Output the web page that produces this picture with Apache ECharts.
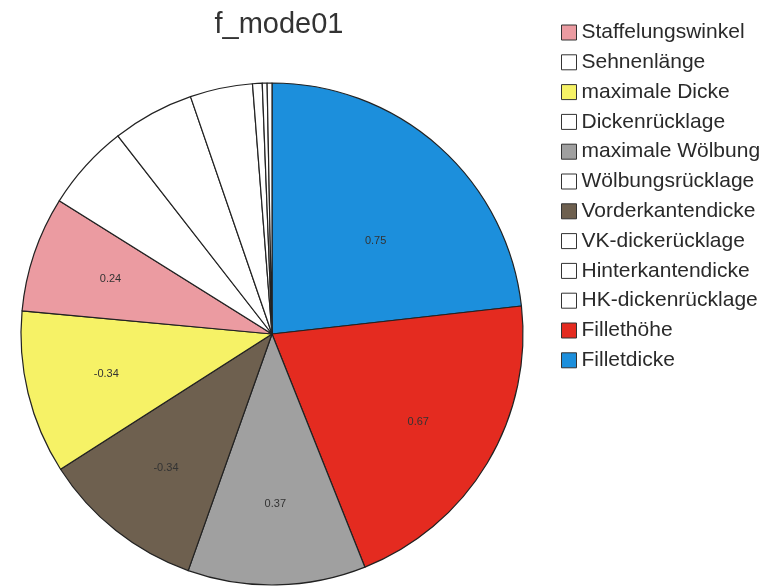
<!DOCTYPE html>
<html>
<head>
<meta charset="utf-8">
<script src="https://cdn.jsdelivr.net/npm/echarts@6/dist/echarts.min.js"></script>
<style>
  html, body {margin: 0; padding: 0; background: #fff;}
  #chart {width: 775px; height: 586px;}
</style>
</head>
<body>
<div id="chart"></div>
<script>
// legend order as in the reference
const legendNames = [
  "Staffelungswinkel", "Sehnenlänge", "maximale Dicke", "Dickenrücklage",
  "maximale Wölbung", "Wölbungsrücklage", "Vorderkantendicke", "VK-dickerücklage",
  "Hinterkantendicke", "HK-dickenrücklage", "Fillethöhe", "Filletdicke",
];

// slice order, clockwise from 12 o'clock
const sliceNames = [
  "Filletdicke", "Fillethöhe", "maximale Wölbung", "Vorderkantendicke",
  "maximale Dicke", "Staffelungswinkel", "Sehnenlänge", "Dickenrücklage",
  "Wölbungsrücklage", "VK-dickerücklage", "Hinterkantendicke", "HK-dickenrücklage",
];
const sliceValues = [0.75, 0.67, 0.37, -0.34, -0.34, 0.24, 0.18, 0.17, 0.13, 0.02, 0.01, 0.01];

const colorByName = {
  "Filletdicke": "#1c8fdc",
  "Fillethöhe": "#e42b20",
  "maximale Wölbung": "#a0a0a0",
  "Vorderkantendicke": "#6e604f",
  "maximale Dicke": "#f6f266",
  "Staffelungswinkel": "#eb9ba1",
};

// the blue label sits a bit closer to the centre in the original
const labelOffsetByName = {
  "Filletdicke": [-10, 34],
};

const chart = echarts.init(document.getElementById("chart"));

const pieData = sliceNames.map((name, i) => ({
  name: name,
  value: Math.abs(sliceValues[i]),
  itemStyle: {color: colorByName[name] || "#ffffff"},
}));

// transparent copy, only used to place the value labels further out
const labelData = sliceNames.map((name, i) => ({
  name: name + " ",
  value: Math.abs(sliceValues[i]),
  signed: sliceValues[i],
  label: {show: !!colorByName[name], offset: labelOffsetByName[name] || [0, 0]},
}));

const option = {
  animation: false,
  title: {
    text: "f_mode01",
    left: 274,
    top: 5,
    textAlign: "center",
    textStyle: {fontFamily: "Liberation Sans", fontSize: 29, fontWeight: "normal", color: "#333"},
  },
  legend: {
    orient: "vertical",
    left: 561,
    top: 22,
    padding: 0,
    data: legendNames,
    icon: "rect",
    itemWidth: 15,
    itemHeight: 15,
    itemGap: 8.8,
    selectedMode: false,
    itemStyle: {borderColor: "#333", borderWidth: 1},
    textStyle: {fontFamily: "Liberation Sans", fontSize: 21, lineHeight: 20, color: "#2a2a2a"},
  },
  series: [
    {
      type: "pie",
      center: [272, 334],
      radius: 251,
      startAngle: 90,
      clockwise: true,
      data: pieData,
      label: {show: false},
      labelLine: {show: false},
      itemStyle: {borderColor: "#222", borderWidth: 1.2},
      emphasis: {disabled: true},
    },
    {
      type: "pie",
      center: [272, 334],
      radius: 335,
      startAngle: 90,
      clockwise: true,
      silent: true,
      data: labelData,
      itemStyle: {color: "transparent"},
      label: {
        position: "inside",
        formatter: (p) => p.data.signed.toFixed(2),
        fontFamily: "Liberation Sans",
        fontSize: 11,
        color: "#333",
      },
      labelLine: {show: false},
      emphasis: {disabled: true},
    },
  ],
};

chart.setOption(option);
</script>
</body>
</html>
